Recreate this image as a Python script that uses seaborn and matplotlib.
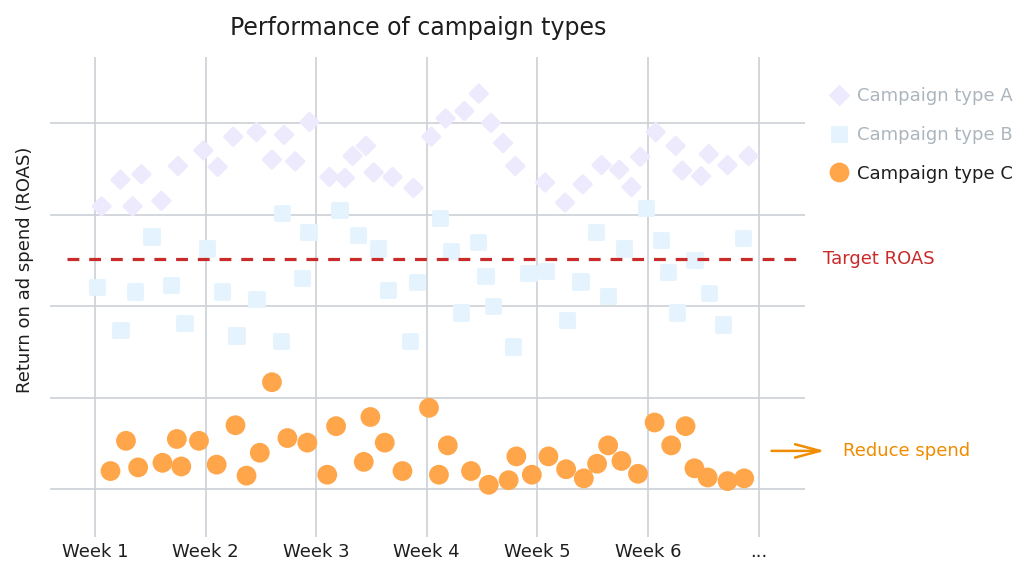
import numpy as np
import pandas as pd
import matplotlib
matplotlib.use("Agg")
import matplotlib.pyplot as plt
import matplotlib.transforms as mtransforms
import seaborn as sns

# ---- data ----
week_ticks = [1, 2, 3, 4, 5, 6, 7]
week_labels = ["Week 1", "Week 2", "Week 3", "Week 4", "Week 5", "Week 6", "..."]
roas_grid = [0, 1, 2, 3, 4]
target_roas = 2.51
reduce_level = 0.42

a_week = [1.06, 1.23, 1.34, 1.42, 1.60, 1.75, 1.98, 2.11, 2.25, 2.46, 2.60, 2.71,
          2.81, 2.94, 3.12, 3.26, 3.33, 3.45, 3.52, 3.69, 3.88, 4.04, 4.17, 4.34,
          4.47, 4.58, 4.69, 4.80, 5.07, 5.25, 5.41, 5.58, 5.74, 5.85, 5.93, 6.07,
          6.25, 6.31, 6.48, 6.55, 6.72, 6.91]
a_roas = [3.09, 3.38, 3.09, 3.44, 3.15, 3.53, 3.70, 3.52, 3.85, 3.90, 3.60, 3.87,
          3.58, 4.01, 3.41, 3.40, 3.64, 3.75, 3.46, 3.41, 3.29, 3.85, 4.05, 4.13,
          4.32, 4.00, 3.78, 3.53, 3.35, 3.13, 3.33, 3.54, 3.49, 3.30, 3.63, 3.90,
          3.75, 3.48, 3.42, 3.66, 3.54, 3.64]

b_week = [1.02, 1.23, 1.36, 1.51, 1.69, 1.81, 2.01, 2.15, 2.28, 2.46, 2.68, 2.69,
          2.87, 2.93, 3.21, 3.38, 3.56, 3.65, 3.85, 3.91, 4.12, 4.22, 4.31, 4.46,
          4.53, 4.60, 4.78, 4.92, 5.08, 5.27, 5.39, 5.53, 5.64, 5.78, 5.98, 6.12,
          6.18, 6.26, 6.42, 6.55, 6.68, 6.86]
b_roas = [2.21, 1.74, 2.16, 2.76, 2.23, 1.82, 2.63, 2.16, 1.68, 2.08, 1.62, 3.02,
          2.31, 2.81, 3.05, 2.78, 2.63, 2.18, 1.62, 2.26, 2.96, 2.60, 1.93, 2.70,
          2.33, 2.00, 1.56, 2.36, 2.38, 1.85, 2.27, 2.81, 2.11, 2.63, 3.07, 2.72,
          2.37, 1.93, 2.50, 2.14, 1.80, 2.74]

c_week = [1.14, 1.28, 1.39, 1.61, 1.74, 1.78, 1.94, 2.10, 2.27, 2.37, 2.49, 2.60,
          2.74, 2.92, 3.10, 3.18, 3.43, 3.49, 3.62, 3.78, 4.02, 4.11, 4.19, 4.40,
          4.56, 4.74, 4.81, 4.95, 5.10, 5.26, 5.42, 5.54, 5.64, 5.76, 5.91, 6.06,
          6.21, 6.34, 6.42, 6.54, 6.72, 6.87]
c_roas = [0.20, 0.53, 0.24, 0.29, 0.55, 0.25, 0.53, 0.27, 0.70, 0.15, 0.40, 1.17,
          0.56, 0.51, 0.16, 0.69, 0.30, 0.79, 0.51, 0.20, 0.89, 0.16, 0.48, 0.20,
          0.05, 0.10, 0.36, 0.16, 0.36, 0.22, 0.12, 0.28, 0.48, 0.31, 0.17, 0.73,
          0.48, 0.69, 0.23, 0.13, 0.09, 0.12]

names = ["Campaign type A", "Campaign type B", "Campaign type C"]

df = pd.concat([
    pd.DataFrame({"week": a_week, "roas": a_roas, "campaign": names[0]}),
    pd.DataFrame({"week": b_week, "roas": b_roas, "campaign": names[1]}),
    pd.DataFrame({"week": c_week, "roas": c_roas, "campaign": names[2]}),
], ignore_index=True)

# ---- style ----
sns.set_style("white")
plt.rcParams["font.family"] = ["DejaVu Sans"]

palette = {names[0]: "#eeeafd", names[1]: "#e4f3fe", names[2]: "#ffa64a"}
markers = {names[0]: "D", names[1]: "s", names[2]: "o"}
sizes = {names[0]: 80, names[1]: 105, names[2]: 150}
grid_col = "#ccd1d7"
ink = "#1e1e1e"
red = "#c92a2a"
orange = "#f08c00"

fig = plt.figure(figsize=(10.24, 5.83), dpi=100)
ax = fig.add_axes([50 / 1024, 1 - 537 / 583, 755 / 1024, 480 / 583])

sns.scatterplot(data=df, x="week", y="roas", hue="campaign", style="campaign",
                size="campaign", palette=palette, markers=markers, sizes=sizes,
                edgecolor="face", linewidth=2, ax=ax, zorder=2)

ax.axhline(target_roas, xmin=0.022, xmax=1.0, color=red, lw=2.3,
           dashes=(3.7, 3.1), zorder=3)

ax.set_xlim(0.593, 7.42)
ax.set_ylim(-0.52, 4.72)
ax.set_xticks(week_ticks)
ax.set_xticklabels(week_labels, fontsize=13, color=ink)
ax.set_yticks(roas_grid)
ax.set_yticklabels([])
ax.tick_params(length=0, pad=4)
ax.grid(True, color=grid_col, lw=1.2)
ax.set_axisbelow(True)
for s in ax.spines.values():
    s.set_visible(False)
ax.set_xlabel("")
ax.set_ylabel("")

# legend
sns.move_legend(ax, "upper left", bbox_to_anchor=(0.802, 0.866),
                bbox_transform=fig.transFigure, frameon=False, title=None,
                fontsize=13, borderpad=0, handlelength=1.0, handletextpad=0.5,
                labelspacing=1.15)
leg = ax.get_legend()
for txt, col in zip(leg.get_texts(), ["#adb5bd", "#adb5bd", ink]):
    txt.set_color(col)

# annotations
trans = mtransforms.blended_transform_factory(ax.transAxes, ax.transData)
ax.text(1.024, target_roas, "Target ROAS", transform=trans, color=red,
        fontsize=13, va="center", ha="left", clip_on=False)
ax.annotate("", xy=(1.030, reduce_level), xytext=(0.952, reduce_level),
            xycoords=trans, textcoords=trans,
            arrowprops=dict(arrowstyle="->,head_length=0.6,head_width=0.16",
                            color=orange, lw=1.8, mutation_scale=30),
            annotation_clip=False)
ax.text(1.050, reduce_level, "Reduce spend", transform=trans, color=orange,
        fontsize=13, va="center", ha="left", clip_on=False)

fig.text(418 / 1024, 1 - 28 / 583, "Performance of campaign types",
         fontsize=17, color=ink, ha="center", va="center")
fig.text(25 / 1024, 1 - 270 / 583, "Return on ad spend (ROAS)", rotation=90,
         fontsize=13, color=ink, ha="center", va="center")

fig.savefig("out.png", dpi=100)
